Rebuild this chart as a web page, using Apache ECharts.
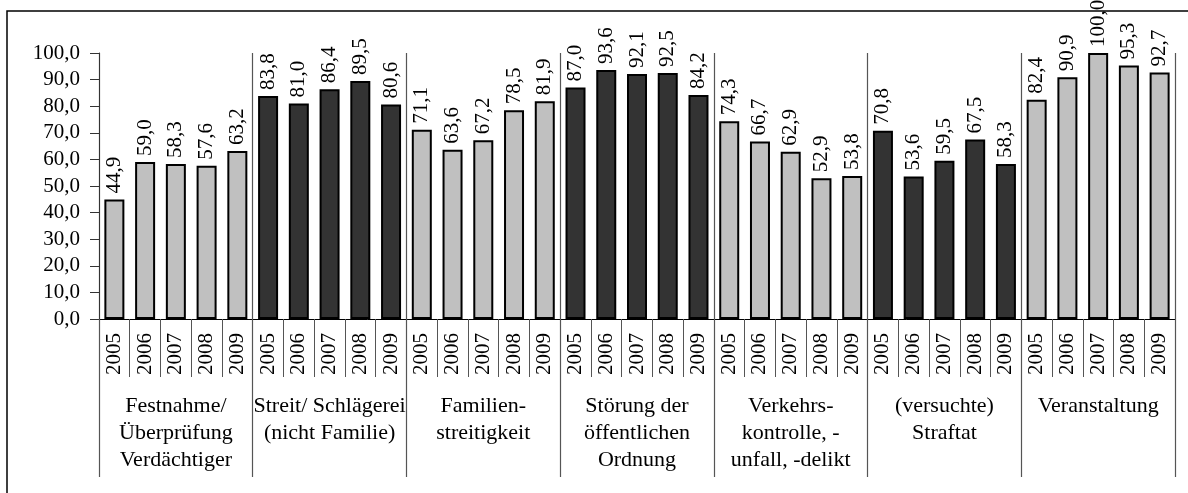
<!DOCTYPE html>
<html>
<head>
<meta charset="utf-8">
<script src="https://cdn.jsdelivr.net/npm/echarts@6/dist/echarts.min.js"></script>
<style>
html,body{margin:0;padding:0;background:#fff;}
#chart{width:1188px;height:493px;}
</style>
</head>
<body>
<div id="chart"></div>
<script>
const groups = [
  "Festnahme/\nÜberprüfung\nVerdächtiger",
  "Streit/ Schlägerei\n(nicht Familie)",
  "Familien-\nstreitigkeit",
  "Störung der\nöffentlichen\nOrdnung",
  "Verkehrs-\nkontrolle, -\nunfall, -delikt",
  "(versuchte)\nStraftat",
  "Veranstaltung"
];
const years = ["2005", "2006", "2007", "2008", "2009"];
const festnahme = [44.9, 59.0, 58.3, 57.6, 63.2];
const streit = [83.8, 81.0, 86.4, 89.5, 80.6];
const familien = [71.1, 63.6, 67.2, 78.5, 81.9];
const stoerung = [87.0, 93.6, 92.1, 92.5, 84.2];
const verkehr = [74.3, 66.7, 62.9, 52.9, 53.8];
const straftat = [70.8, 53.6, 59.5, 67.5, 58.3];
const veranstaltung = [82.4, 90.9, 100.0, 95.3, 92.7];

const groupValues = [festnahme, streit, familien, stoerung, verkehr, straftat, veranstaltung];
const yearCats = [];
const values = [];
groupValues.forEach((arr, gi) => {
  arr.forEach((v, yi) => {
    yearCats.push(gi + "_" + years[yi]);
    values.push(v);
  });
});

const fmt = v => Number(v).toFixed(1).replace('.', ',');
const serif = "'Liberation Serif', 'Times New Roman', serif";

const chart = echarts.init(document.getElementById('chart'));
chart.setOption({
  animation: false,
  backgroundColor: '#fff',
  grid: { left: 99, right: 13, top: 53, bottom: 174, containLabel: false },
  graphic: [{
    type: 'rect',
    shape: { x: 7, y: 11, width: 1200, height: 500 },
    style: { fill: 'none', stroke: '#000', lineWidth: 1.5 },
    silent: true
  }],
  xAxis: [{
    type: 'category',
    data: yearCats,
    position: 'bottom',
    axisLine: { show: true, lineStyle: { color: '#000', width: 1 } },
    axisTick: { show: true, interval: 0, length: 58, lineStyle: { color: '#555', width: 1 } },
    axisLabel: {
      interval: 0, rotate: 90, margin: 14,
      formatter: v => v.split('_')[1],
      fontFamily: serif, fontSize: 21, color: '#000'
    },
    splitLine: { show: false }
  }, {
    type: 'category',
    data: groups,
    position: 'bottom',
    axisLine: { show: false },
    axisTick: { show: true, interval: 0, length: 158, lineStyle: { color: '#555', width: 1.2 } },
    axisLabel: {
      interval: 0, margin: 74,
      fontFamily: serif, fontSize: 22, lineHeight: 27, color: '#000', align: 'center'
    },
    splitLine: { show: true, interval: 0, lineStyle: { color: '#555', width: 1.2 } }
  }],
  yAxis: {
    type: 'value',
    min: 0, max: 100, interval: 10,
    axisLine: { show: true, lineStyle: { color: '#333', width: 1 } },
    axisTick: { show: true, length: 9, lineStyle: { color: '#333' } },
    splitLine: { show: false },
    axisLabel: {
      formatter: v => fmt(v), margin: 19,
      fontFamily: serif, fontSize: 21, color: '#000'
    }
  },
  series: [{
    type: 'bar',
    xAxisIndex: 0,
    data: values,
    barWidth: 20,
    itemStyle: {
      color: p => (Math.floor(p.dataIndex / 5) % 2 ? '#333333' : '#c0c0c0'),
      borderColor: '#000',
      borderWidth: 2
    },
    label: {
      show: true, position: 'top', rotate: 90, distance: 6,
      align: 'left', verticalAlign: 'middle',
      formatter: p => fmt(p.value),
      fontFamily: serif, fontSize: 21, color: '#000'
    }
  }]
});
</script>
</body>
</html>
